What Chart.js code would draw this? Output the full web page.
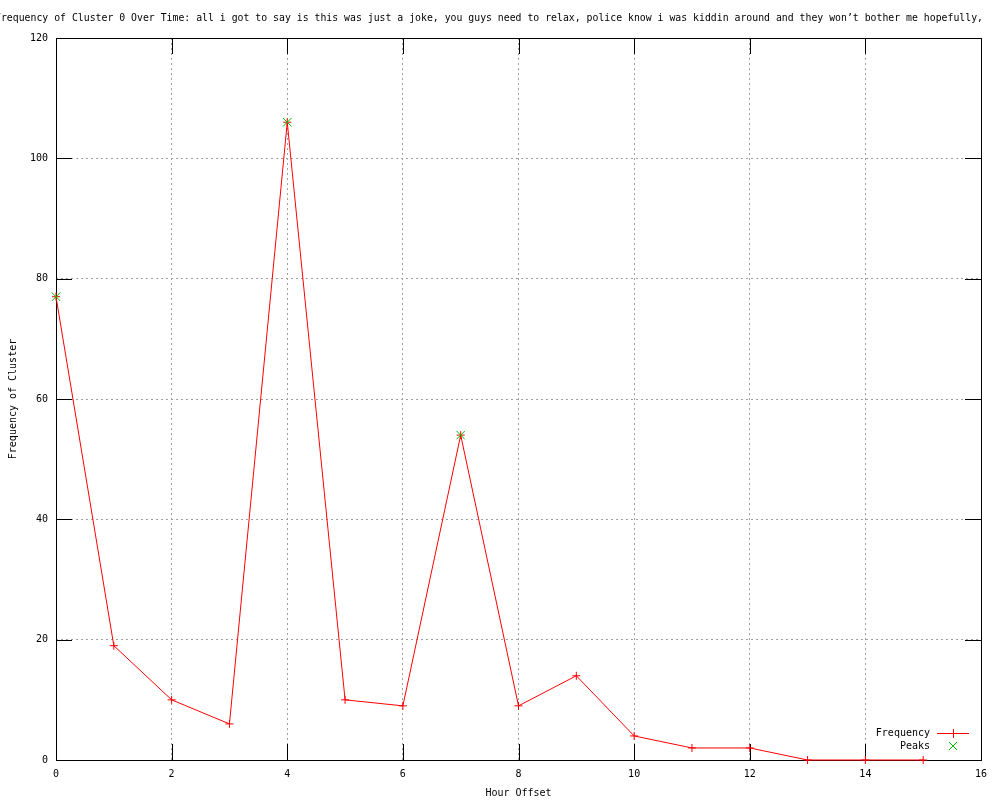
<!DOCTYPE html>
<html><head><meta charset="utf-8">
<script src="https://cdn.jsdelivr.net/npm/chart.js@4.4.0/dist/chart.umd.min.js"></script>
<style>html,body{margin:0;padding:0;background:#fff}#wrap{width:1000px;height:800px}</style>
</head><body><div id="wrap"><canvas id="c" width="1000" height="800"></canvas></div>
<script>
const titleText = "Frequency of Cluster 0 Over Time: all i got to say is this was just a joke, you guys need to relax, police know i was kiddin around and they won\u2019t bother me hopefully,";
const xAxisTitle = "Hour Offset";
const yAxisTitle = "Frequency of Cluster";
const hours = [0, 1, 2, 3, 4, 5, 6, 7, 8, 9, 10, 11, 12, 13, 14, 15];
const frequency = [77, 19, 10, 6, 106, 10, 9, 54, 9, 14, 4, 2, 2, 0, 0, 0];
const peakHours = [0, 4, 7];
const peakValues = [77, 106, 54];
const seriesLabels = ["Frequency", "Peaks"];

const MONO = "'DejaVu Sans Mono', 'Liberation Mono', monospace";
const RED = '#ff0000';
const GREEN = '#00c000';
const TICKLEN = 16;

const gnuFrame = {
  id: 'gnuFrame',
  beforeDatasetsDraw(chart) {
    const {ctx, chartArea: {left, top, right, bottom}, scales: {x, y}} = chart;
    ctx.save();
    ctx.strokeStyle = '#000';
    ctx.lineWidth = 1;
    ctx.beginPath();
    x.ticks.forEach(t => {
      const px = Math.round(x.getPixelForValue(t.value)) + 0.5;
      ctx.moveTo(px, bottom); ctx.lineTo(px, bottom - TICKLEN);
      ctx.moveTo(px, top); ctx.lineTo(px, top + TICKLEN);
    });
    y.ticks.forEach(t => {
      const py = Math.round(y.getPixelForValue(t.value)) + 0.5;
      ctx.moveTo(left, py); ctx.lineTo(left + TICKLEN, py);
      ctx.moveTo(right, py); ctx.lineTo(right - TICKLEN, py);
    });
    ctx.stroke();
    ctx.strokeRect(Math.round(left) + 0.5, Math.round(top) + 0.5, Math.round(right - left), Math.round(bottom - top));
    ctx.restore();
  },
  afterDraw(chart) {
    const {ctx, chartArea: {right, bottom}} = chart;
    ctx.save();
    ctx.font = '10px ' + MONO;
    ctx.fillStyle = '#000';
    // title (allowed to overflow the canvas like the original)
    ctx.textAlign = 'center';
    ctx.textBaseline = 'middle';
    ctx.fillText(titleText, 489, 18, 988);
    // legend
    ctx.textAlign = 'right';
    const tx = right - 51;
    const y1 = bottom - 27, y2 = bottom - 14;
    const mx = right - 28;
    ctx.fillText(chart.data.datasets[0].label, tx, y1);
    ctx.fillText(chart.data.datasets[1].label, tx, y2);
    ctx.lineWidth = 1;
    ctx.strokeStyle = RED;
    ctx.beginPath();
    ctx.moveTo(right - 44, y1 + 0.5); ctx.lineTo(right - 12, y1 + 0.5);
    ctx.moveTo(mx + 0.5, y1 - 4); ctx.lineTo(mx + 0.5, y1 + 5);
    ctx.stroke();
    ctx.strokeStyle = GREEN;
    ctx.beginPath();
    ctx.moveTo(mx - 4, y2 - 4); ctx.lineTo(mx + 4, y2 + 4);
    ctx.moveTo(mx - 4, y2 + 4); ctx.lineTo(mx + 4, y2 - 4);
    ctx.stroke();
    ctx.restore();
  }
};

new Chart(document.getElementById('c'), {
  type: 'scatter',
  data: {
    datasets: [
      {
        label: seriesLabels[0],
        data: hours.map((h, i) => ({x: h, y: frequency[i]})),
        showLine: true,
        borderColor: RED,
        backgroundColor: RED,
        borderWidth: 1,
        tension: 0,
        pointStyle: 'cross',
        pointRadius: 4,
        pointBorderWidth: 1,
        pointBorderColor: RED,
        clip: false,
        order: 1
      },
      {
        label: seriesLabels[1],
        data: peakHours.map((h, i) => ({x: h, y: peakValues[i]})),
        showLine: false,
        borderColor: GREEN,
        backgroundColor: GREEN,
        pointStyle: 'crossRot',
        pointRadius: 6,
        pointBorderWidth: 1,
        pointBorderColor: GREEN,
        clip: false,
        order: 0
      }
    ]
  },
  options: {
    responsive: false,
    animation: false,
    devicePixelRatio: 1,
    layout: {padding: {left: 0, right: 19, top: 38, bottom: 0}},
    plugins: {
      legend: {display: false},
      tooltip: {enabled: false},
      title: {display: false}
    },
    scales: {
      x: {
        type: 'linear',
        min: 0, max: 16,
        ticks: {stepSize: 2, color: '#000', font: {family: MONO, size: 10}, padding: 8, maxRotation: 0},
        grid: {color: '#a0a0a0', lineWidth: 1, drawTicks: false},
        border: {display: false, dash: [2, 3]},
        title: {display: true, text: xAxisTitle, color: '#000', font: {family: MONO, size: 10}, padding: {top: 0, bottom: 1}},
        afterFit(s) { s.height = 40; }
      },
      y: {
        type: 'linear',
        min: 0, max: 120,
        ticks: {stepSize: 20, color: '#000', font: {family: MONO, size: 10}, padding: 8},
        grid: {color: '#a0a0a0', lineWidth: 1, drawTicks: false},
        border: {display: false, dash: [2, 3]},
        title: {display: true, text: yAxisTitle, color: '#000', font: {family: MONO, size: 10}, padding: {top: 7, bottom: 0}},
        afterFit(s) { s.width = 56; }
      }
    }
  },
  plugins: [gnuFrame]
});
</script>
</body></html>
